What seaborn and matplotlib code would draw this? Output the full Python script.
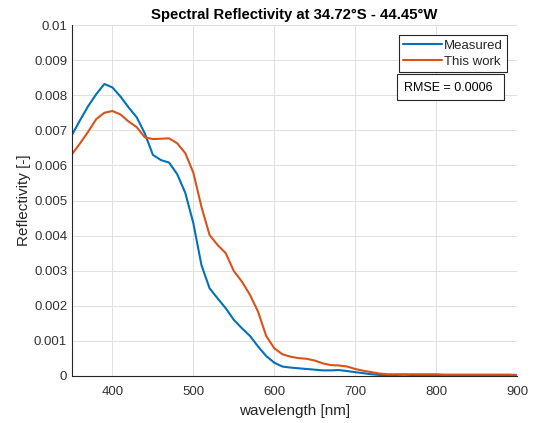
import numpy as np
import pandas as pd
import matplotlib
matplotlib.use("Agg")
import matplotlib.pyplot as plt
from matplotlib.patches import Rectangle
import seaborn as sns

wavelength = list(range(350, 901, 10))
measured = [6.87, 7.29, 7.69, 8.03, 8.32, 8.22, 7.96, 7.65, 7.37, 6.91,
            6.30, 6.15, 6.08, 5.75, 5.22, 4.35, 3.16, 2.50, 2.21, 1.93,
            1.60, 1.36, 1.14, 0.84, 0.57, 0.38, 0.27, 0.24, 0.22, 0.20,
            0.18, 0.16, 0.16, 0.17, 0.14, 0.11, 0.08, 0.05, 0.03, 0.01,
            0.00, -0.01, 0.00, 0.01, 0.01, 0.02, 0.01, 0.00, 0.00, 0.00,
            0.00, 0.01, 0.01, 0.01, 0.00, 0.00]
this_work = [6.32, 6.63, 6.96, 7.32, 7.50, 7.55, 7.45, 7.25, 7.09, 6.80,
             6.75, 6.76, 6.77, 6.63, 6.35, 5.79, 4.82, 4.02, 3.73, 3.50,
             2.99, 2.69, 2.31, 1.83, 1.14, 0.79, 0.62, 0.55, 0.51, 0.49,
             0.44, 0.36, 0.31, 0.30, 0.27, 0.20, 0.15, 0.11, 0.07, 0.05,
             0.05, 0.05, 0.05, 0.05, 0.05, 0.05, 0.04, 0.04, 0.04, 0.04,
             0.04, 0.04, 0.04, 0.04, 0.04, 0.03]
series_names = ["Measured", "This work"]
colors = ["#0072BD", "#D95319"]
x_ticks = [400, 500, 600, 700, 800, 900]
y_ticks = [i / 1000 for i in range(11)]
y_tick_labels = ["0", "0.001", "0.002", "0.003", "0.004", "0.005",
                 "0.006", "0.007", "0.008", "0.009", "0.01"]

df = pd.DataFrame({
    "wavelength": wavelength * 2,
    "reflectivity": [v * 1e-3 for v in measured] + [v * 1e-3 for v in this_work],
    "series": [series_names[0]] * len(wavelength) + [series_names[1]] * len(wavelength),
})

sns.set_theme(style="white")
plt.rcParams["font.family"] = ["Liberation Sans", "DejaVu Sans"]

W, H = 535, 423
L, R, T, B = 72, 517, 25, 376
fig = plt.figure(figsize=(W / 100, H / 100), dpi=100)
ax = fig.add_axes([L / W, 1 - B / H, (R - L) / W, (B - T) / H])

sns.lineplot(data=df, x="wavelength", y="reflectivity", hue="series",
             palette=colors, linewidth=1.5, ax=ax, legend=True)

ax.set_xlim(350, 900)
ax.set_ylim(0, 0.01)
ax.set_xticks(x_ticks)
ax.set_yticks(y_ticks)
ax.set_yticklabels(y_tick_labels)
ax.grid(True, color="#e0e0e0", linewidth=0.7)
ax.set_axisbelow(True)
for s in ["top", "right"]:
    ax.spines[s].set_visible(False)
for s in ["left", "bottom"]:
    ax.spines[s].set_color("#262626")
    ax.spines[s].set_linewidth(0.8)
ax.tick_params(direction="in", length=4, width=0.8, color="#262626",
               labelsize=9.5, labelcolor="#333333")
ax.tick_params(axis="x", pad=7.3)
ax.tick_params(axis="y", pad=3.5)
ax.set_xlabel("wavelength [nm]", fontsize=11, color="#262626", labelpad=4)
ax.set_ylabel("Reflectivity [-]", fontsize=11, color="#262626", labelpad=2)
ax.set_title("Spectral Reflectivity at 34.72°S - 44.45°W", fontsize=10.7,
             fontweight="bold", color="black", pad=4)

def ax_x(px):
    return (px - L) / (R - L)

def ax_y(py):
    return (B - py) / (B - T)

leg = ax.legend(loc="upper right", bbox_to_anchor=(ax_x(507), ax_y(35)),
                fontsize=9.5, frameon=True, fancybox=False, borderpad=0.35,
                handlelength=2.9, handletextpad=0.15, labelspacing=0.28,
                borderaxespad=0)
leg.get_frame().set_edgecolor("#262626")
leg.get_frame().set_linewidth(0.8)
leg.get_frame().set_alpha(1)

ax.add_patch(Rectangle((ax_x(397), ax_y(100)), ax_x(504) - ax_x(397),
                       ax_y(74) - ax_y(100), transform=ax.transAxes,
                       facecolor="white", edgecolor="#262626", linewidth=0.8,
                       zorder=5, clip_on=False))
ax.text(ax_x(404.5), ax_y(87.5), "RMSE = 0.0006", transform=ax.transAxes,
        fontsize=9, color="black", ha="left", va="center", zorder=6)

fig.savefig("out.png", dpi=100)
